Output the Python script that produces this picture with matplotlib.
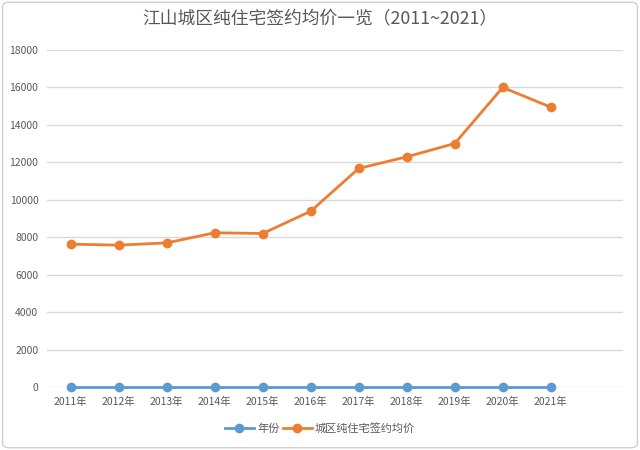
import matplotlib
matplotlib.use("Agg")
import matplotlib.pyplot as plt
from matplotlib.patches import FancyBboxPatch

plt.rcParams['font.family'] = ['Noto Sans CJK SC', 'DejaVu Sans']

categories = ['2011年', '2012年', '2013年', '2014年', '2015年', '2016年',
              '2017年', '2018年', '2019年', '2020年', '2021年']
year_series = [0, 0, 0, 0, 0, 0, 0, 0, 0, 0, 0]
price_series = [7640, 7590, 7710, 8250, 8210, 9400, 11680, 12300, 13010, 16000, 14950]
yticks = [0, 2000, 4000, 6000, 8000, 10000, 12000, 14000, 16000, 18000]
title = '江山城区纯住宅签约均价一览（2011~2021）'
series_names = ['年份', '城区纯住宅签约均价']

blue = '#5B9BD5'
orange = '#ED7D31'
grey_text = '#595959'

fig = plt.figure(figsize=(6.4, 4.5), dpi=100)
fig.patch.set_facecolor('white')
border = FancyBboxPatch((0.004, 0.005), 0.992, 0.99, boxstyle='round,pad=0,rounding_size=0.01',
                        transform=fig.transFigure, fill=False, edgecolor='#D0D0D0', linewidth=1.0)
fig.patches.append(border)

ax = fig.add_axes([0.073, 0.139, 0.9, 0.750])
x = list(range(len(categories)))
ax.plot(x, year_series, color=blue, lw=2.0, marker='o', ms=6, label=series_names[0],
        zorder=3, clip_on=False)
ax.plot(x, price_series, color=orange, lw=2.0, marker='o', ms=6, label=series_names[1],
        zorder=3, clip_on=False)

ax.set_xlim(-0.5, 11.5)
ax.set_ylim(0, 18000)
ax.set_yticks(yticks)
ax.set_yticklabels([str(v) for v in yticks])
ax.set_xticks(x)
ax.set_xticklabels(categories)
ax.yaxis.grid(True, color='#D9D9D9', lw=1.0)
ax.set_axisbelow(True)
for s in ax.spines.values():
    s.set_visible(False)
ax.tick_params(axis='both', length=0, colors=grey_text, labelsize=7.5)
ax.tick_params(axis='x', pad=7)
ax.tick_params(axis='y', pad=6)

fig.text(0.5, 0.957, title, ha='center', va='center', fontsize=12.8, color=grey_text,
         fontweight='medium')

leg = fig.legend(loc='center', bbox_to_anchor=(0.5, 0.047), ncol=2, frameon=False,
                 fontsize=8, handlelength=2.6, columnspacing=0.3, handletextpad=0.3,
                 labelcolor=grey_text)

fig.savefig('out.png', dpi=100, facecolor='white')
